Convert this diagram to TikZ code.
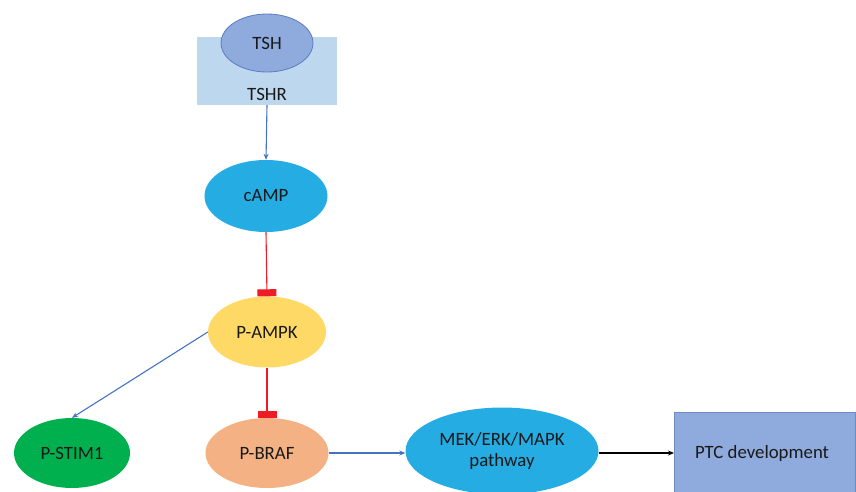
\documentclass[tikz,border=0pt]{standalone}
\usepackage{fontspec}
\setmainfont{Carlito}
\usetikzlibrary{shapes.geometric,arrows.meta}
\definecolor{tshfill}{HTML}{8FAADC}
\definecolor{tshdraw}{HTML}{5A7DBF}
\definecolor{tshrfill}{HTML}{BDD7EE}
\definecolor{cyanfill}{HTML}{25ACE3}
\definecolor{ampkfill}{HTML}{FFD966}
\definecolor{stimfill}{HTML}{00B04F}
\definecolor{braffill}{HTML}{F4B183}
\definecolor{ptcdraw}{HTML}{6F8CC2}
\definecolor{actblue}{HTML}{4472C4}
\definecolor{inhred}{HTML}{EE1C24}
\tikzset{
  lbl/.style={font=\fontsize{18.8}{21}\selectfont, text=black!90},
  oval/.style={ellipse, inner sep=0pt, lbl, align=center},
  act/.style={draw=actblue, line width=1.1pt, -{Stealth[length=6pt,width=5pt]}},
  inh/.style={draw=inhred, line width=1.1pt, -{Rectangle[length=7pt,width=19pt,fill=inhred]}},
  blk/.style={draw=black, line width=1.2pt, -{Stealth[length=6pt,width=5pt]}},
}
\begin{document}
\begin{tikzpicture}[x=1pt,y=-1pt]
\useasboundingbox (0,0) rectangle (856,492);
\clip (0,0) rectangle (856,492);
\node[rectangle, fill=tshrfill, minimum width=140pt, minimum height=68pt, inner sep=0pt] (tshr) at (267,71) {};
\node[lbl] (tshrlabel) at (267,94) {TSHR};
\node[oval, fill=tshfill, draw=tshdraw, line width=0.8pt, minimum width=92pt, minimum height=58pt] (tsh) at (267,43) {TSH};
\node[oval, fill=cyanfill, minimum width=123pt, minimum height=72pt] (camp) at (266,196) {cAMP};
\node[oval, fill=ampkfill, minimum width=118pt, minimum height=71pt] (pampk) at (267,332) {P-AMPK};
\node[oval, fill=stimfill, minimum width=116pt, minimum height=70pt] (pstim) at (72,453) {P-STIM1};
\node[oval, fill=braffill, minimum width=123pt, minimum height=70pt] (pbraf) at (267,453) {P-BRAF};
\node[oval, fill=cyanfill, minimum width=193pt, minimum height=87pt] (mek) at (502,451) {MEK/ERK/MAPK\\pathway};
\node[rectangle, fill=tshfill, draw=ptcdraw, line width=0.8pt, minimum width=181pt, minimum height=82pt, inner sep=0pt, anchor=north west] (ptc) at (674,412) {};
\node[lbl] (ptclabel) at (762,453) {PTC development};
\draw[act] (tshr.south) -- (camp.north);
\draw[inh] (camp.south) -- (pampk.north);
\draw[act] (pampk.west) -- (pstim.north);
\draw[inh] (pampk.south) -- (pbraf.north);
\draw[act] (pbraf.east) -- (mek.west |- pbraf.east);
\draw[blk] (mek.east |- pbraf.east) -- (ptc.west |- pbraf.east);
\end{tikzpicture}
\end{document}
